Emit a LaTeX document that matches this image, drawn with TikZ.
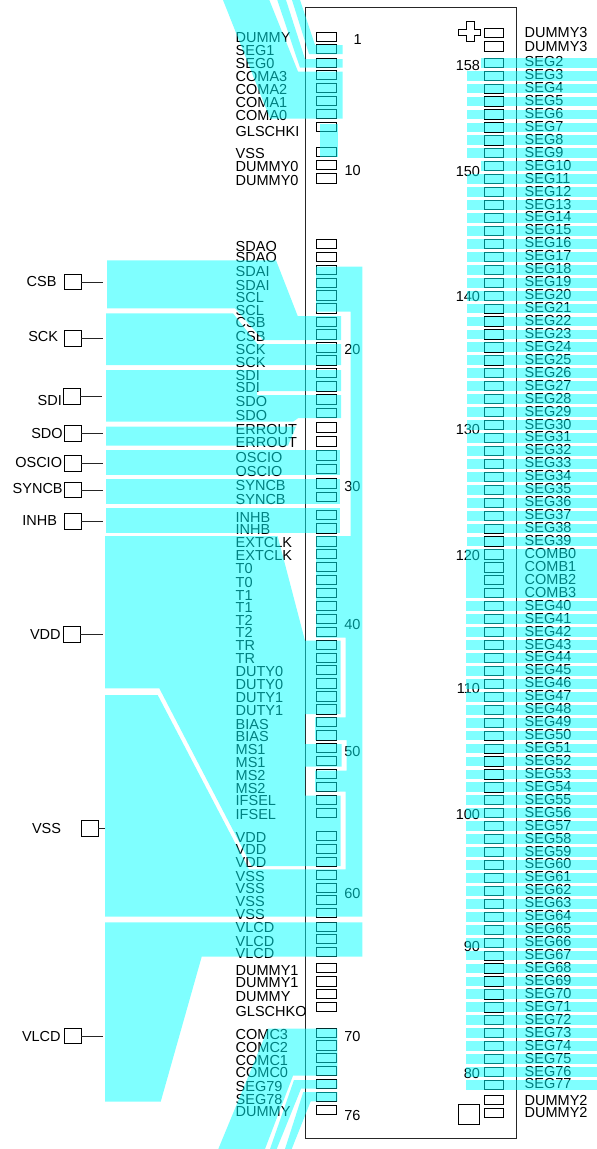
\documentclass[tikz,border=0pt]{standalone}
\usepackage{fontspec}
\setmainfont{Liberation Sans}
\definecolor{overlaycyan}{RGB}{0,255,255}
\tikzset{
  every node/.style={inner sep=0pt,outer sep=0pt},
  lbl/.style={anchor=base west,font=\fontsize{14.5}{14.5}\selectfont,text=black},
  rnum/.style={anchor=base east,font=\fontsize{14.5}{14.5}\selectfont,text=black},
  padbox/.style={draw=black,line width=0.85pt,fill=white,minimum width=19.6pt,minimum height=9.2pt},
  pinbox/.style={draw=black,line width=0.85pt,minimum width=16.6pt,minimum height=15.6pt},
  chipbox/.style={draw=black!85,line width=0.9pt,minimum width=211.5pt,minimum height=1131pt},
  bigsq/.style={draw=black,line width=0.85pt,minimum width=20.6pt,minimum height=19.6pt},
  stub/.style={draw=black!85,line width=0.8pt},
  band/.style={fill=overlaycyan,fill opacity=0.5,draw=none}
}
\begin{document}
\begin{tikzpicture}[x=1pt,y=-1pt]
\useasboundingbox (0,0) rectangle (597,1149);

% chip outline
\node[chipbox] (chip) at (410.7,572.8) {};

% left pads
\foreach \yy [count=\i] in {36.7,49.3,62.7,75,88.3,101.2,114,127,152.3,165,178.5,
 243.8,256.8,270,283.2,295.5,308.5,322,334.5,347.5,360.5,373,386.5,399.5,413,
 427.5,441.5,455.5,469,483.5,497,515,528.5,541.5,554,567,580,593,606,619,632,
 645,657.7,670.3,683.5,696.5,709.5,722.3,735.5,748.3,761.3,774.2,787.3,800,813,
 835.8,849,861.7,874.8,887.8,900.3,913.2,926.7,939.3,952.3,968.2,981.5,994.3,1007.3,
 1032.7,1045.5,1058.2,1071.2,1084.3,1096.8,1110}
  \node[padbox] (lp\i) at (326.7,\yy) {};

% left pad labels
\foreach \t/\yy [count=\i] in {DUMMY/42.7,SEG1/55.3,SEG0/68.3,COMA3/81.7,COMA2/94.3,COMA1/107.3,COMA0/120.7,
 GLSCHKI/136.7,VSS/158.3,DUMMY0/171.7,DUMMY0/185,
 SDAO/251,SDAO/262.3,SDAI/276,SDAI/290,SCL/302,SCL/315,CSB/327.7,CSB/341,SCK/354.3,SCK/367,
 SDI/380,SDI/392.7,SDO/406.7,SDO/420,ERROUT/434,ERROUT/447.7,OSCIO/462.3,OSCIO/476,
 SYNCB/490.3,SYNCB/504,INHB/522.7,INHB/534,EXTCLK/547.5,EXTCLK/560.7,T0/573.3,T0/587,T1/600,T1/612.5,T2/625,T2/637.3,
 TR/650,TR/663.3,DUTY0/676.7,DUTY0/689.3,DUTY1/702.7,DUTY1/715.7,BIAS/729,BIAS/741.7,MS1/754.7,MS1/767,
 MS2/780,MS2/793.3,IFSEL/805.7,IFSEL/819,VDD/842.7,VDD/854.7,VDD/867.7,VSS/881.7,VSS/893.3,VSS/906.7,VSS/919.3,
 VLCD/932.7,VLCD/946,VLCD/958.7,DUMMY1/975,DUMMY1/987.7,DUMMY/1001,GLSCHKO/1016.7,
 COMC3/1039,COMC2/1052.3,COMC1/1065,COMC0/1077.7,SEG79/1091,SEG78/1104,DUMMY/1116.3}
  \node[lbl] (ll\i) at (235.7,\yy) {\t};

% left numbers
\node[lbl] (n1) at (353.5,44) {1};
\node[lbl] (n10) at (344.5,175.7) {10};
\node[lbl] (n20) at (344.3,354.3) {20};
\node[lbl] (n30) at (344.3,491.7) {30};
\node[lbl] (n40) at (344.3,629) {40};
\node[lbl] (n50) at (344.3,756) {50};
\node[lbl] (n60) at (344.3,898.3) {60};
\node[lbl] (n70) at (344.3,1041.3) {70};
\node[lbl] (n76) at (344.3,1120) {76};

% right pads and labels
\node[padbox] (rd3a) at (494,33.3) {};
\node[padbox] (rd3b) at (494,46.5) {};
\node[lbl] (td3a) at (524.7,37.7) {DUMMY3};
\node[lbl] (td3b) at (524.7,51) {DUMMY3};
\foreach \t [count=\i from 0] in {SEG2,SEG3,SEG4,SEG5,SEG6,SEG7,SEG8,SEG9,SEG10,SEG11,SEG12,SEG13,SEG14,SEG15,SEG16,SEG17,SEG18,SEG19,SEG20,SEG21,SEG22,SEG23,SEG24,SEG25,SEG26,SEG27,SEG28,SEG29,SEG30,SEG31,SEG32,SEG33,SEG34,SEG35,SEG36,SEG37,SEG38,SEG39,COMB0,COMB1,COMB2,COMB3,SEG40,SEG41,SEG42,SEG43,SEG44,SEG45,SEG46,SEG47,SEG48,SEG49,SEG50,SEG51,SEG52,SEG53,SEG54,SEG55,SEG56,SEG57,SEG58,SEG59,SEG60,SEG61,SEG62,SEG63,SEG64,SEG65,SEG66,SEG67,SEG68,SEG69,SEG70,SEG71,SEG72,SEG73,SEG74,SEG75,SEG76,SEG77}{
  \pgfmathsetmacro\cy{62.7+12.94*\i}
  \pgfmathsetmacro\by{66.7+12.94*\i}
  \node[padbox] (rp\i) at (494,\cy) {};
  \node[lbl] (rl\i) at (524.7,\by) {\t};
}
\node[padbox] (rd2a) at (494,1100.3) {};
\node[padbox] (rd2b) at (494,1113) {};
\node[lbl] (td2a) at (524.7,1105) {DUMMY2};
\node[lbl] (td2b) at (524.7,1117.3) {DUMMY2};

% right numbers
\foreach \t/\yy in {158/70,150/176,140/301.7,130/434.3,120/560.7,110/693.3,100/819,90/951.7,80/1078.3}
  \node[rnum] (r\t) at (480,\yy) {\t};

% alignment marks
\draw[black,line width=0.85pt] (466,21.7) -- (474.3,21.7) -- (474.3,29) -- (480,29) -- (480,35) -- (474.3,35) -- (474.3,41.7) -- (466,41.7) -- (466,35) -- (458.3,35) -- (458.3,29) -- (466,29) -- cycle;
\node[bigsq] (sq) at (469,1114.5) {};

% external pins
\foreach \nm/\bx/\cy/\ex/\tx/\ty in {
 CSB/72.7/282/102.7/26.7/286.2,
 SCK/72.7/338.7/102.7/28.3/341.9,
 SDI/71.7/396.7/101.7/37.7/405.2,
 SDO/72.7/433.7/102.7/31.3/438.2,
 OSCIO/72.7/463.7/102.7/15.3/467.2,
 SYNCB/72.7/490/102.7/12.7/493.2,
 INHB/72.7/521.7/102.7/22.3/525.9,
 VDD/71.7/634.7/102.7/30/639.5,
 VSS/90/828.7/105/32/833.5,
 VLCD/72.7/1036/102.7/22/1041}{
  \node[pinbox] (pin\nm) at (\bx,\cy) {};
  \coordinate (end\nm) at (\ex,\cy);
  \draw[stub] (pin\nm.east) -- (end\nm);
  \node[lbl] (txt\nm) at (\tx,\ty) {\nm};
}

% overlays
\fill[band] (223,0) -- (269.3,0) -- (298,71.5) -- (342.5,71.5) -- (342.5,118.5) -- (270,118.5) -- cycle;
\fill[band] (277.3,0) -- (286,0) -- (305,59) -- (342.5,59) -- (342.5,67.7) -- (300,67.7) -- cycle;
\fill[band] (292,0) -- (300,0) -- (315,45) -- (342.5,45) -- (342.5,54) -- (309,54) -- cycle;
\fill[band] (320,124) rectangle (338.3,157);

\fill[band] (107,260.3) -- (276,260.3) -- (297.7,316) -- (341,316) -- (341,340) -- (263,340) -- (235,308.3) -- (107,308.3) -- cycle;
\fill[band] (106,313.3) -- (233,313.3) -- (257.3,344) -- (341,344) -- (341,365) -- (106,365) -- cycle;
\fill[band] (106,370) -- (341,370) -- (341,391) -- (257,391) -- (257,395) -- (341,395) -- (341,418) -- (298.3,418) -- (293,421.7) -- (106,421.7) -- cycle;
\fill[band] (106,426.5) -- (296,426.5) -- (288,445.7) -- (106,445.7) -- cycle;
\fill[band] (106,450) rectangle (340,475);
\fill[band] (106,479) rectangle (340,504);
\fill[band] (106,508) rectangle (340,532.7);

\fill[band] (105,536) -- (277.6,536) -- (305,640.7) -- (340.7,640.7) -- (340.7,714) -- (305,714) -- (305,744) -- (341.7,744) -- (341.7,766.7) -- (305,766.7) -- (305,795.7) -- (340.7,795.7) -- (340.7,866) -- (251.7,866) -- (159.3,688.3) -- (105,688.3) -- cycle;
\fill[band] (105,695) -- (157.7,695) -- (248.9,869.3) -- (345.7,869.3) -- (345.7,791.7) -- (315,791.7) -- (315,770.7) -- (346.7,770.7) -- (346.7,740) -- (315,740) -- (315,717.3) -- (345.7,717.3) -- (345.7,637.7) -- (316,637.7) -- (316,536) -- (350.7,536) -- (350.7,311.7) -- (316,311.7) -- (316,266.7) -- (362.3,266.7) -- (362.3,916.7) -- (105,916.7) -- cycle;
\fill[band] (105,922.3) -- (362.3,922.3) -- (362.3,956.7) -- (201.7,956.7) -- (160.7,1101.7) -- (105,1101.7) -- cycle;

\fill[band] (268,1028.7) -- (337.3,1028.7) -- (337.3,1075.7) -- (293,1075.7) -- (265,1149) -- (218.3,1149) -- cycle;
\fill[band] (294,1080) -- (337.3,1080) -- (337.3,1088.7) -- (301,1088.7) -- (276.7,1149) -- (270,1149) -- cycle;
\fill[band] (303.3,1092) -- (337.3,1092) -- (337.3,1101.3) -- (310.7,1101.3) -- (291.7,1149) -- (285,1149) -- cycle;

% right side bands
\foreach \i in {0,...,79}{
  \pgfmathsetmacro\cy{62.7+12.94*\i}
  \pgfmathsetmacro\xs{(\i==0||\i==8)?480.5:(\i>40?466:467)}
  \ifnum\i=38\relax
    \pgfmathsetmacro\ya{\cy-5}\pgfmathsetmacro\yb{\cy+38.82+5}
    \fill[band] (466,\ya) rectangle (597,\yb);
  \else\ifnum\i>38\relax\ifnum\i<42\relax\else
    \pgfmathsetmacro\ya{\cy-4.9}\pgfmathsetmacro\yb{\cy+4.9}
    \fill[band] (\xs,\ya) rectangle (597,\yb);
  \fi\else
    \pgfmathsetmacro\ya{\cy-4.9}\pgfmathsetmacro\yb{\cy+4.9}
    \fill[band] (\xs,\ya) rectangle (597,\yb);
  \fi\fi
}
\end{tikzpicture}
\end{document}
